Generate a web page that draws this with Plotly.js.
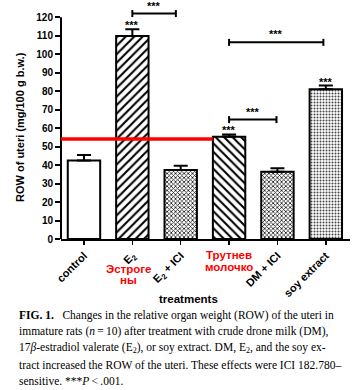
<!DOCTYPE html>
<html>
<head>
<meta charset="utf-8">
<script src="https://cdn.plot.ly/plotly-3.0.1.min.js"></script>
<style>html,body{margin:0;padding:0;background:#fff;}#chart{width:359px;height:390px;}</style>
</head>
<body>
<div id="chart"></div>
<script>
// ---- data ----
const categories = ["control", "E2", "E2 + ICI", "DM", "DM + ICI", "soy extract"];
const tickLabels = ["control", "E<sub>2</sub>", "E<sub>2</sub> + ICI", "", "DM + ICI", "soy extract"];
const rowValues = [42.5, 109.8, 37.3, 55.3, 36.4, 81.0];
const rowErrors = [3.0, 3.7, 2.4, 1.3, 1.9, 2.0];
const starsAbove = ["", "***", "", "***", "", "***"];
const brackets = [
  {from: 1, to: 1.9, y: 122.0},
  {from: 3, to: 3.98, y: 64.6},
  {from: 3, to: 4.95, y: 106.4}
];
const redLineValue = 54.1;
const yTicks = [0, 10, 20, 30, 40, 50, 60, 70, 80, 90, 100, 110, 120];
const redLabelE2 = ["Эстроге", "ны"];
const redLabelDM = ["Трутнев", "молочко"];
const xTitle = "treatments";
const yTitle = "ROW of uteri (mg/100 g b.w.)";
const captionLines = [
  "<b>FIG. 1.</b>   Changes in the relative organ weight (ROW) of the uteri in",
  "immature rats (<i>n</i>\u2009=\u200910) after treatment with crude drone milk (DM),",
  "17<i>\u03b2</i>-estradiol valerate (E<sub>2</sub>), or soy extract. DM, E<sub>2</sub>, and the soy ex-",
  "tract increased the ROW of the uteri. These effects were ICI 182.780\u2013",
  "sensitive. ***<i>P</i>\u2009<\u2009.001."
];

// ---- geometry helpers (pixel -> paper) ----
const L = 61, R = 350, T = 8, B = 239;
const px = v => (v - L) / (R - L);
const py = v => (B - v) / (B - T);

// ---- styles ----
const patterns = [
  {shape: "", bgcolor: "#ffffff"},
  {shape: "/", fgcolor: "#000", bgcolor: "#fff", size: 6, solidity: 0.35},
  {shape: "x", fgcolor: "#111", bgcolor: "#fff", size: 3, solidity: 0.45},
  {shape: "\\", fgcolor: "#000", bgcolor: "#fff", size: 6, solidity: 0.35},
  {shape: "x", fgcolor: "#111", bgcolor: "#fff", size: 3, solidity: 0.45},
  {shape: ".", fgcolor: "#444", bgcolor: "#fff", size: 3, solidity: 0.35}
];
const sans = "Liberation Sans, Arial, sans-serif";
const xIdx = categories.map((c, i) => i);

const traces = categories.map((c, i) => ({
  type: "bar",
  x: [i],
  y: [rowValues[i]],
  width: 0.67,
  marker: {
    color: "#ffffff",
    line: {color: "#000", width: 2},
    pattern: patterns[i]
  },
  error_y: {type: "data", array: [rowErrors[i]], arrayminus: [0], symmetric: false,
            color: "#000", thickness: 2, width: 7},
  showlegend: false,
  hoverinfo: "skip"
}));

const shapes = [];
const annotations = [];

// y axis line (only to 120)
shapes.push({type: "line", xref: "paper", yref: "y", x0: 0, x1: 0, y0: 0, y1: 120,
  line: {color: "#000", width: 2}});

// red line
shapes.push({type: "line", xref: "x", yref: "y", x0: -0.5, x1: 3 - 0.335,
  y0: redLineValue, y1: redLineValue, line: {color: "#ff0000", width: 3.5}});

// brackets
const capH = 1.9;
brackets.forEach(b => {
  shapes.push({type: "line", xref: "x", yref: "y", x0: b.from, x1: b.to, y0: b.y, y1: b.y, line: {color: "#000", width: 2}});
  shapes.push({type: "line", xref: "x", yref: "y", x0: b.from, x1: b.from, y0: b.y - capH, y1: b.y + capH, line: {color: "#000", width: 2}});
  shapes.push({type: "line", xref: "x", yref: "y", x0: b.to, x1: b.to, y0: b.y - capH, y1: b.y + capH, line: {color: "#000", width: 2}});
  annotations.push({x: (b.from + b.to) / 2, y: b.y, xref: "x", yref: "y", text: "***",
    showarrow: false, xanchor: "center", yanchor: "bottom", yshift: 0,
    font: {family: sans, size: 11, color: "#000", weight: "bold"}});
});

// stars above bars
starsAbove.forEach((s, i) => {
  if (!s) return;
  annotations.push({x: i, y: rowValues[i] + rowErrors[i], xref: "x", yref: "y", text: s,
    showarrow: false, xanchor: "center", yanchor: "bottom", yshift: -4,
    font: {family: sans, size: 11, color: "#000", weight: "bold"}});
});

function textAt(text, x, y, font, extra) {
  annotations.push(Object.assign({x: px(x), y: py(y), xref: "paper", yref: "paper", text: text,
    showarrow: false, xanchor: "center", yanchor: "middle", font: font}, extra || {}));
}
const redFont = {family: sans, size: 11.5, color: "#ff0000", weight: "bold"};

// red labels
textAt(redLabelE2[0], 128, 269, redFont);
textAt(redLabelE2[1], 128, 280, redFont);
textAt(redLabelDM[0], 228.5, 255, redFont);
textAt(redLabelDM[1], 228.5, 267, redFont);

// x title
textAt(xTitle, 188, 299, {family: sans, size: 11.5, color: "#000", weight: "bold"});

// y title
textAt(yTitle, 20, 127, {family: sans, size: 11, color: "#000", weight: "bold"}, {textangle: -90});

// caption
const capY = [315, 331.5, 348, 364.5, 381];
captionLines.forEach((t, k) => {
  textAt(t, 17, capY[k], {family: "Liberation Serif, Times New Roman, serif", size: 11.5, color: "#000"},
    {xanchor: "left", align: "left"});
});

const layout = {
  width: 359, height: 390,
  margin: {l: L, r: 359 - R, t: T, b: 390 - B},
  paper_bgcolor: "#fff", plot_bgcolor: "#fff",
  xaxis: {
    range: [-0.475, 5.5], tickvals: xIdx, ticktext: tickLabels, tickangle: -45,
    showline: true, linecolor: "#000", linewidth: 2, ticks: "outside", ticklen: 4, tickwidth: 1.5,
    tickcolor: "#000", showgrid: false, zeroline: false,
    tickfont: {family: sans, size: 11, color: "#000", weight: "bold"}, fixedrange: true
  },
  yaxis: {
    range: [0, 125], tickvals: yTicks, showline: false, ticks: "outside", ticklen: 5, tickwidth: 2,
    tickcolor: "#000", showgrid: false, zeroline: false,
    tickfont: {family: sans, size: 10, color: "#000", weight: "bold"}, fixedrange: true
  },
  shapes: shapes,
  annotations: annotations,
  showlegend: false
};

Plotly.newPlot("chart", traces, layout, {displayModeBar: false, staticPlot: true});
</script>
</body>
</html>
